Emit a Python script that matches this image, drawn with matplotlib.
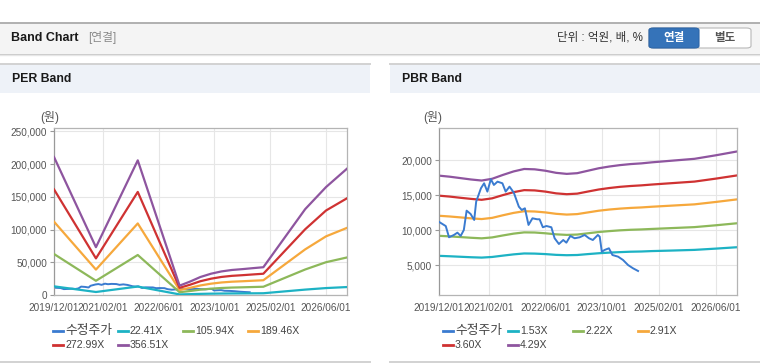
import matplotlib
matplotlib.use('Agg')
import matplotlib.pyplot as plt
import matplotlib.dates as mdates
from matplotlib.patches import Rectangle, FancyBboxPatch
from matplotlib.lines import Line2D
from matplotlib.ticker import FuncFormatter, FixedLocator
import pandas as pd

plt.rcParams['font.family'] = ['Liberation Sans', 'Noto Sans CJK KR', 'DejaVu Sans']

# ---------------- data ----------------
price_dates = ['2019-12-01', '2020-01-28', '2020-02-25', '2020-04-07', '2020-05-07', '2020-06-04',
               '2020-07-01', '2020-07-25', '2020-08-28', '2020-09-28', '2020-10-15', '2020-11-25',
               '2020-12-22', '2021-01-19', '2021-02-18', '2021-03-16', '2021-04-16', '2021-05-28',
               '2021-06-25', '2021-07-28', '2021-09-03', '2021-10-16', '2021-11-10', '2021-12-07',
               '2022-01-07', '2022-02-10', '2022-03-22', '2022-04-12', '2022-05-10', '2022-06-10',
               '2022-07-22', '2022-08-19', '2022-09-25', '2022-11-01', '2022-11-28', '2023-01-01',
               '2023-02-07', '2023-03-22', '2023-05-04', '2023-06-10', '2023-07-13', '2023-08-25',
               '2023-09-10', '2023-09-28', '2023-10-22', '2023-11-28', '2023-12-28', '2024-02-15',
               '2024-03-28', '2024-05-10', '2024-06-22', '2024-08-04']
price = [11200, 10600, 9000, 9330, 9660, 9190,
         10040, 12800, 12330, 11470, 14090, 16000,
         16710, 15520, 17290, 16470, 16940, 16710,
         15520, 16230, 15370, 13370, 12900, 13140,
         10760, 11710, 11570, 11570, 10430, 10610,
         10430, 8860, 8040, 8610, 8230, 9190,
         8860, 9000, 9330, 8860, 8610, 9330,
         9090, 6940, 7190, 7430, 6470, 6230,
         5760, 5040, 4570, 4190]

per_dates = ['2019-12-01', '2020-12-01', '2021-12-01', '2022-12-01', '2023-03-01', '2023-06-01',
             '2023-09-01', '2023-12-01', '2024-03-01', '2024-06-01', '2024-09-01', '2024-12-01',
             '2025-12-01', '2026-06-01', '2026-12-01']
per_labels = ['22.41X', '105.94X', '189.46X', '272.99X', '356.51X']
per_2241 = [13240, 4590, 12920, 900, 1280, 1730, 2040, 2260, 2400, 2480, 2580, 2670, 8240, 10590, 12130]
per_10594 = [62620, 21700, 61100, 4250, 6060, 8170, 9660, 10700, 11350, 11740, 12190, 12600, 38960, 50080, 57330]
per_18946 = [111970, 38790, 109260, 7600, 10840, 14610, 17270, 19130, 20300, 20990, 21790, 22530, 69670, 89550, 102510]
per_27299 = [161300, 55900, 157400, 10950, 15620, 21060, 24890, 27570, 29250, 30250, 31390, 32470, 100380, 129030, 147700]
per_35651 = [210700, 73000, 205600, 14300, 20400, 27500, 32500, 36000, 38200, 39500, 41000, 42400, 131100, 164800, 192900]

pbr_dates = ['2019-12-01', '2020-03-01', '2020-06-01', '2020-09-01', '2020-12-01', '2021-03-01',
             '2021-06-01', '2021-09-01', '2021-12-01', '2022-03-01', '2022-06-01', '2022-09-01',
             '2022-12-01', '2023-03-01', '2023-06-01', '2023-09-01', '2023-12-01', '2024-03-01',
             '2024-06-01', '2024-09-01', '2024-12-01', '2025-06-01', '2025-12-01', '2026-06-01',
             '2026-12-01']
pbr_labels = ['1.53X', '2.22X', '2.91X', '3.60X', '4.29X']
pbr_153 = [6350, 6290, 6220, 6150, 6100, 6190, 6380, 6560, 6690, 6670, 6600, 6490, 6440, 6470, 6600,
           6720, 6810, 6880, 6940, 6970, 7030, 7110, 7200, 7380, 7580]
pbr_222 = [9210, 9130, 9030, 8930, 8850, 8980, 9260, 9520, 9700, 9680, 9570, 9420, 9340, 9390, 9570,
           9750, 9880, 9990, 10070, 10120, 10190, 10320, 10450, 10710, 11000]
pbr_291 = [12070, 11970, 11840, 11700, 11600, 11770, 12140, 12480, 12720, 12680, 12550, 12350, 12240,
           12310, 12550, 12790, 12960, 13090, 13190, 13260, 13360, 13530, 13700, 14040, 14410]
pbr_360 = [14940, 14810, 14640, 14480, 14350, 14560, 15020, 15440, 15730, 15690, 15520, 15270, 15150,
           15230, 15530, 15820, 16030, 16200, 16320, 16410, 16530, 16740, 16950, 17370, 17830]
pbr_429 = [17800, 17650, 17450, 17250, 17100, 17350, 17900, 18400, 18750, 18700, 18500, 18200, 18050,
           18150, 18500, 18850, 19100, 19300, 19450, 19550, 19700, 19950, 20200, 20700, 21250]

xtick_dates = ['2019-12-01', '2021-02-01', '2022-06-01', '2023-10-01', '2025-02-01', '2026-06-01']
xtick_labels = ['2019/12/01', '2021/02/01', '2022/06/01', '2023/10/01', '2025/02/01', '2026/06/01']
per_yticks = [0, 50000, 100000, 150000, 200000, 250000]
pbr_yticks = [5000, 10000, 15000, 20000]

price_label = '수정주가'
band_colors = ['#1db2c4', '#8db85a', '#f6a83c', '#cf3232', '#8e559f']
price_color = '#3a7bd0'

# ---------------- figure ----------------
W, H = 760, 364
fig = plt.figure(figsize=(W / 100, H / 100), dpi=100)
fig.patch.set_facecolor('white')


def fx(px):
    return px / W


def fy(py):
    return 1 - py / H


def rect(x0, y0, x1, y1, **kw):
    fig.patches.append(Rectangle((fx(x0), fy(y1)), fx(x1 - x0), (y1 - y0) / H,
                                 transform=fig.transFigure, **kw))


def hline(x0, x1, y, color, lw):
    fig.add_artist(Line2D([fx(x0), fx(x1)], [fy(y), fy(y)], color=color, lw=lw,
                          transform=fig.transFigure))


# top header bar
rect(0, 23, 760, 53, facecolor='#f4f4f4', edgecolor='none')
hline(0, 760, 22.5, '#b0b0b0', 1.4)
hline(0, 760, 53.5, '#c8c8c8', 1.0)
hline(0, 760, 54.5, '#e6e6e6', 1.0)
fig.text(fx(11), fy(38), 'Band Chart', fontsize=9, fontweight='bold', color='#1a1a1a', va='center')
fig.text(fx(88), fy(38), '[연결]', fontsize=8.5, color='#8a8a8a', va='center')
fig.text(fx(643), fy(38), '단위 : 억원, 배, %', fontsize=8.3, color='#333333', va='center', ha='right')

# toggle buttons
fig.patches.append(FancyBboxPatch((fx(649), fy(48)), fx(102), 20 / H,
                                  boxstyle='round,pad=0,rounding_size=0.006',
                                  transform=fig.transFigure, facecolor='white',
                                  edgecolor='#b8b8b8', lw=0.8))
fig.patches.append(FancyBboxPatch((fx(649), fy(48)), fx(50), 20 / H,
                                  boxstyle='round,pad=0,rounding_size=0.006',
                                  transform=fig.transFigure, facecolor='#3573b9',
                                  edgecolor='#2d66a8', lw=0.8))
fig.text(fx(674), fy(38.5), '연결', fontsize=8.3, fontweight='bold', color='white', ha='center', va='center')
fig.text(fx(725), fy(38.5), '별도', fontsize=8.3, fontweight='bold', color='#555555', ha='center', va='center')

# panel headers
for x0, title in [(0, 'PER Band'), (390, 'PBR Band')]:
    rect(x0, 64, x0 + 370, 93, facecolor='#eef2f8', edgecolor='none')
    hline(x0, x0 + 370, 63.5, '#d2d2d2', 1.4)
    hline(x0, x0 + 370, 361.5, '#d2d2d2', 1.4)
    fig.text(fx(x0 + 12), fy(79), title, fontsize=8.8, fontweight='bold', color='#1a1a1a', va='center')

# ---------------- axes ----------------
xmin = pd.Timestamp('2019-12-01')
xmax = pd.Timestamp('2026-12-01')


def style_axes(ax, yticks, ylim):
    ax.set_xlim(xmin, xmax)
    ax.set_ylim(*ylim)
    ax.xaxis.set_major_locator(FixedLocator(mdates.date2num(pd.to_datetime(xtick_dates))))
    ax.set_xticklabels(xtick_labels)
    ax.set_yticks(yticks)
    ax.yaxis.set_major_formatter(FuncFormatter(lambda v, p: f'{int(v):,}'))
    ax.grid(True, color='#e6e6e6', lw=0.8)
    ax.set_axisbelow(True)
    for s in ax.spines.values():
        s.set_color('#b4b4b4')
        s.set_linewidth(0.9)
    ax.spines['left'].set_color('#999999')
    ax.tick_params(axis='both', colors='#999999', labelcolor='#555555', labelsize=7.2, length=3, width=0.8)
    ax.tick_params(axis='x', pad=5.5, length=0)
    ax.tick_params(axis='y', pad=2)


def draw_legend(base_x, labels):
    entries = [(price_label, price_color)] + list(zip(labels, band_colors))
    for i, (lab, col) in enumerate(entries):
        cx = base_x + (i % 4) * 65
        cy = 331 + (i // 4) * 13.5
        fig.add_artist(Line2D([fx(cx), fx(cx + 10)], [fy(cy), fy(cy)], color=col, lw=2,
                              transform=fig.transFigure))
        fs = 9.2 if i == 0 else 7.6
        fig.text(fx(cx + 12), fy(cy), lab, fontsize=fs, color='#444444', va='center')


pdates = pd.to_datetime(price_dates)

axL = fig.add_axes([fx(54), fy(295), fx(293), (295 - 128) / H])
perd = pd.to_datetime(per_dates)
for vals, col in zip([per_2241, per_10594, per_18946, per_27299, per_35651], band_colors):
    axL.plot(perd, vals, color=col, lw=1.6, zorder=3)
axL.plot(pdates, price, color=price_color, lw=1.4, zorder=2)
style_axes(axL, per_yticks, (0, 255000))
fig.text(fx(50), fy(118), '(원)', fontsize=8.6, color='#555555', ha='center', va='center')
draw_legend(53, per_labels)

axR = fig.add_axes([fx(439), fy(295), fx(298), (295 - 128) / H])
pbrd = pd.to_datetime(pbr_dates)
for vals, col in zip([pbr_153, pbr_222, pbr_291, pbr_360, pbr_429], band_colors):
    axR.plot(pbrd, vals, color=col, lw=1.6, zorder=2)
axR.plot(pdates, price, color=price_color, lw=1.4, zorder=3)
style_axes(axR, pbr_yticks, (760, 24600))
fig.text(fx(433), fy(118), '(원)', fontsize=8.6, color='#555555', ha='center', va='center')
draw_legend(443, pbr_labels)

fig.savefig('out.png', dpi=100, facecolor='white')
